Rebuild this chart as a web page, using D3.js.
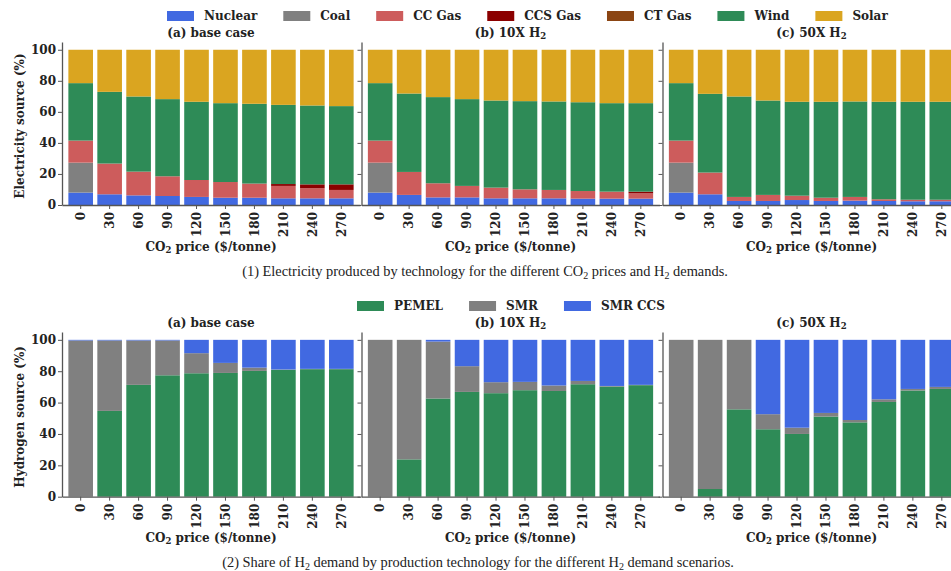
<!DOCTYPE html>
<html>
<head>
<meta charset="utf-8">
<script src="https://cdn.jsdelivr.net/npm/d3@7"></script>
<style>
  body { margin: 0; background: #fff; }
  svg text { font-family: "DejaVu Serif"; font-weight: bold; font-size: 12px; fill: #222; }
  svg text.caption { font-family: "Liberation Serif"; font-weight: normal; font-size: 14.4px; }
</style>
</head>
<body>
<div id="chart"></div>
<script>
// CO2 prices on the x axis
const prices = [0, 30, 60, 90, 120, 150, 180, 210, 240, 270];

// electricity sources, bottom to top
const elecTechs = ["Nuclear", "Coal", "CC Gas", "CCS Gas", "CT Gas", "Wind", "Solar"];
const elecColors = ["#4169e1", "#808080", "#cd5c5c", "#8b0000", "#8b4513", "#2e8b57", "#daa520"];

// hydrogen sources, bottom to top
const h2Techs = ["PEMEL", "SMR", "SMR CCS"];
const h2Colors = ["#2e8b57", "#808080", "#4169e1"];

// (1a) base case, electricity share (%)
const baseNuclear = [8.0, 6.9, 6.2, 5.8, 5.2, 4.7, 4.7, 4.3, 4.3, 4.3];
const baseCoal    = [19.3, 0, 0, 0, 0, 0, 0, 0, 0, 0];
const baseCCGas   = [14.2, 19.8, 15.3, 12.7, 10.9, 10.1, 9.1, 8.0, 6.5, 5.4];
const baseCCSGas  = [0, 0, 0, 0, 0, 0, 0, 1.2, 2.5, 3.6];
const baseCTGas   = [0, 0, 0, 0, 0, 0, 0, 0, 0, 0];
const baseWind    = [37.0, 46.2, 48.4, 49.7, 50.4, 50.8, 51.4, 51.0, 50.8, 50.4];
const baseSolar   = [21.5, 27.1, 30.1, 31.8, 33.5, 34.4, 34.8, 35.5, 35.9, 36.3];

// (1b) 10X H2
const x10Nuclear = [8.0, 6.5, 4.9, 4.9, 4.3, 4.3, 4.3, 4.1, 4.1, 4.1];
const x10Coal    = [19.3, 0, 0, 0, 0, 0, 0, 0, 0, 0];
const x10CCGas   = [14.2, 14.8, 9.1, 7.4, 6.9, 5.8, 5.4, 4.9, 4.5, 3.4];
const x10CCSGas  = [0, 0, 0, 0, 0, 0, 0, 0, 0, 1.1];
const x10CTGas   = [0, 0, 0, 0, 0, 0, 0, 0, 0, 0];
const x10Wind    = [37.0, 50.5, 55.5, 55.9, 56.1, 56.8, 57.0, 57.2, 57.0, 57.0];
const x10Solar   = [21.5, 28.2, 30.5, 31.8, 32.7, 33.1, 33.3, 33.8, 34.4, 34.4];

// (1c) 50X H2
const x50Nuclear = [8.0, 6.9, 2.6, 2.6, 3.2, 2.6, 2.8, 2.6, 2.4, 2.4];
const x50Coal    = [19.3, 0, 0, 0, 0, 0, 0, 0, 0, 0];
const x50CCGas   = [14.2, 14.0, 2.6, 3.9, 2.8, 2.1, 2.4, 1.1, 1.0, 1.0];
const x50CCSGas  = [0, 0, 0, 0, 0, 0, 0, 0, 0, 0];
const x50CTGas   = [0, 0, 0, 0, 0, 0, 0, 0, 0, 0];
const x50Wind    = [37.0, 50.7, 64.7, 60.8, 60.5, 61.8, 61.5, 62.8, 63.1, 63.1];
const x50Solar   = [21.5, 28.4, 30.1, 32.7, 33.5, 33.5, 33.3, 33.5, 33.5, 33.5];

// (2) hydrogen share (%)
const basePEMEL = [0, 54.7, 71.3, 77.4, 78.7, 78.9, 80.2, 80.9, 81.3, 81.3];
const baseSMR   = [99.6, 44.9, 28.3, 22.2, 12.8, 6.4, 2.1, 0.2, 0.2, 0.2];
const baseSMRCCS = [0.4, 0.4, 0.4, 0.4, 8.5, 14.7, 17.7, 18.9, 18.5, 18.5];

const x10PEMEL = [0, 23.8, 62.6, 66.8, 66.0, 67.9, 67.4, 71.7, 70.2, 71.1];
const x10SMR   = [100, 76.2, 36.3, 16.4, 7.0, 5.3, 3.5, 2.1, 0.4, 0.2];
const x10SMRCCS = [0, 0, 1.1, 16.8, 27.0, 26.8, 29.1, 26.2, 29.4, 28.7];

const x50PEMEL = [0, 4.9, 55.7, 43.0, 40.0, 51.1, 47.4, 60.4, 67.7, 68.7];
const x50SMR   = [100, 95.1, 44.3, 9.6, 4.0, 2.3, 1.5, 1.7, 1.0, 1.3];
const x50SMRCCS = [0, 0, 0, 47.4, 56.0, 46.6, 51.1, 37.9, 31.3, 30.0];

const yTicks = [0, 20, 40, 60, 80, 100];

// titles as [text, subscript] pieces
const panelTitles = [
  [["(a) base case"]],
  [["(b) 10X H"], ["2", true]],
  [["(c) 50X H"], ["2", true]]
];
const xLabel = [["CO"], ["2", true], [" price ($/tonne)"]];

const width = 951, height = 571;
const panelLeft = [62, 361.5, 662.5];
const panelWidth = 298;

const svg = d3.select("#chart").append("svg")
  .attr("width", width)
  .attr("height", height);

// write text with subscripts
function richText(sel, parts, subSize) {
  parts.forEach(p => {
    const t = sel.append("tspan").text(p[0]);
    if (p[1]) t.attr("baseline-shift", "-25%").style("font-size", subSize || "8.5px");
  });
  return sel;
}

function buildRows(series, keys) {
  return prices.map((p, i) => {
    const row = { price: p };
    keys.forEach((k, j) => row[k] = series[j][i]);
    return row;
  });
}

function drawRow(cfg) {
  const y = d3.scaleLinear().domain([0, 105]).range([cfg.yBottom, cfg.yTop]);
  const stack = d3.stack().keys(cfg.techs);
  const color = d3.scaleOrdinal().domain(cfg.techs).range(cfg.colors);

  cfg.panels.forEach((series, pi) => {
    const left = panelLeft[pi];
    const x = d3.scaleBand()
      .domain(prices)
      .range([left, left + panelWidth])
      .paddingInner(0.15)
      .paddingOuter(0.22);

    const g = svg.append("g");
    const layers = stack(buildRows(series, cfg.techs));

    g.selectAll("g.layer")
      .data(layers)
      .join("g")
      .attr("fill", d => color(d.key))
      .selectAll("rect")
      .data(d => d)
      .join("rect")
      .attr("x", d => x(d.data.price))
      .attr("width", x.bandwidth())
      .attr("y", d => y(d[1]))
      .attr("height", d => Math.max(0, y(d[0]) - y(d[1])));

    // axes
    const ya = g.append("g")
      .attr("transform", `translate(${left},0)`)
      .call(d3.axisLeft(y).tickValues(yTicks).tickSize(4).tickSizeOuter(0)
        .tickFormat(pi === 0 ? d3.format("d") : ""));
    const xa = g.append("g")
      .attr("transform", `translate(0,${cfg.yBottom})`)
      .call(d3.axisBottom(x).tickSize(4).tickSizeOuter(0));
    [ya, xa].forEach(a => {
      a.select(".domain").attr("stroke", "#555").attr("stroke-width", 1.3);
      a.selectAll(".tick line").attr("stroke", "#555");
      a.selectAll("text").style("font-size", "12px").attr("fill", "#222");
    });
    ya.selectAll("text").attr("x", -6);
    xa.selectAll("text")
      .attr("transform", "rotate(-90)")
      .attr("x", -7)
      .attr("y", 0)
      .attr("dy", "0.35em")
      .style("text-anchor", "end");

    const cx = left + panelWidth / 2;
    richText(g.append("text").attr("x", cx).attr("y", cfg.titleY).attr("text-anchor", "middle"), panelTitles[pi]);
    richText(g.append("text").attr("x", cx).attr("y", cfg.xLabelY).attr("text-anchor", "middle"), xLabel);
  });

  // y label
  svg.append("text")
    .attr("transform", `translate(20,${(cfg.yBottom + cfg.yTop + 5) / 2}) rotate(-90)`)
    .attr("text-anchor", "middle")
    .attr("dy", "0.35em")
    .text(cfg.yLabel);

  // legend
  let lx = cfg.legendX;
  cfg.techs.forEach((t, i) => {
    svg.append("rect")
      .attr("x", lx).attr("y", cfg.legendY - 5)
      .attr("width", 27).attr("height", 10)
      .attr("fill", cfg.colors[i]);
    const txt = svg.append("text")
      .attr("x", lx + 37).attr("y", cfg.legendY)
      .attr("dy", "0.35em")
      .text(t);
    lx += 37 + txt.node().getComputedTextLength() + 26;
  });

  // caption
  richText(svg.append("text").attr("class", "caption")
    .attr("x", cfg.captionX).attr("y", cfg.captionY).attr("text-anchor", "middle"), cfg.caption, "10px");
}

drawRow({
  techs: elecTechs,
  colors: elecColors,
  panels: [
    [baseNuclear, baseCoal, baseCCGas, baseCCSGas, baseCTGas, baseWind, baseSolar],
    [x10Nuclear, x10Coal, x10CCGas, x10CCSGas, x10CTGas, x10Wind, x10Solar],
    [x50Nuclear, x50Coal, x50CCGas, x50CCSGas, x50CTGas, x50Wind, x50Solar]
  ],
  yTop: 42, yBottom: 205,
  titleY: 37, xLabelY: 251,
  yLabel: "Electricity source (%)",
  legendX: 167, legendY: 16,
  captionX: 485, captionY: 276,
  caption: [["(1) Electricity produced by technology for the different CO"], ["2", true],
            [" prices and H"], ["2", true], [" demands."]]
});

drawRow({
  techs: h2Techs,
  colors: h2Colors,
  panels: [
    [basePEMEL, baseSMR, baseSMRCCS],
    [x10PEMEL, x10SMR, x10SMRCCS],
    [x50PEMEL, x50SMR, x50SMRCCS]
  ],
  yTop: 332, yBottom: 496.7,
  titleY: 327, xLabelY: 542,
  yLabel: "Hydrogen source (%)",
  legendX: 357, legendY: 306,
  captionX: 478, captionY: 567,
  caption: [["(2) Share of H"], ["2", true], [" demand by production technology for the different H"],
            ["2", true], [" demand scenarios."]]
});
</script>
</body>
</html>
